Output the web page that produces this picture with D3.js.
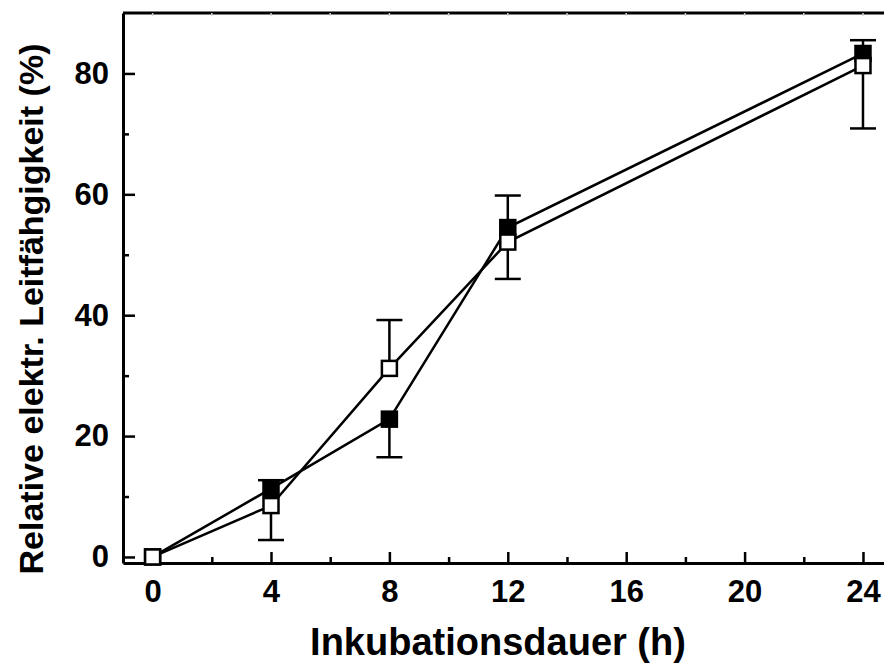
<!DOCTYPE html>
<html>
<head>
<meta charset="utf-8">
<script src="https://cdn.jsdelivr.net/npm/d3@7"></script>
<style>
  html, body { margin: 0; padding: 0; background: #fff; }
  svg { display: block; }
  text { font-family: "Liberation Sans", Arial, sans-serif; font-weight: bold; fill: #000; }
</style>
</head>
<body>
<svg id="chart" width="884" height="664"></svg>
<script>
// Incubation times (h)
const hours = [0, 4, 8, 12, 24];

// Filled squares: mean values and one-sided error bars
const filledValues = [0, 11.3, 22.8, 54.5, 83.3];
const filledErrUp   = [0, 1.4, 0, 5.3, 2.2];
const filledErrDown = [0, 0, 6.3, 0, 0];

// Open squares: mean values and one-sided error bars
const openValues = [0, 8.5, 31.2, 52.1, 81.3];
const openErrUp   = [0, 0, 8.0, 0, 0];
const openErrDown = [0, 5.7, 0, 6.1, 10.4];

const xTicks = [0, 4, 8, 12, 16, 20, 24];
const xMinorTicks = [2, 6, 10, 14, 18, 22];
const yTicks = [0, 20, 40, 60, 80];
const yMinorTicks = [10, 30, 50, 70];

const svg = d3.select("#chart");
const plotLeft = 123, plotRight = 884, plotTop = 13, plotBottom = 563;

const x = d3.scaleLinear().domain([-1, 24.71]).range([plotLeft, plotRight]);
const y = d3.scaleLinear().domain([-1, 90]).range([plotBottom, plotTop]);

// Top frame with faint minor ticks
svg.append("line").attr("x1", plotLeft).attr("x2", plotRight).attr("y1", plotTop).attr("y2", plotTop)
  .attr("stroke", "#000").attr("stroke-width", 3);
svg.append("g").selectAll("line").data(d3.range(0, 25, 2)).join("line")
  .attr("x1", d => x(d)).attr("x2", d => x(d)).attr("y1", plotTop).attr("y2", plotTop + 3)
  .attr("stroke", "#d0d0d0").attr("stroke-width", 1.5);

// Bottom axis: major ticks labelled, inward
const xAxis = d3.axisBottom(x).tickValues(xTicks).tickSizeInner(-11).tickSizeOuter(0).tickPadding(17)
  .tickFormat(d3.format("d"));
const gx = svg.append("g").attr("transform", `translate(0,${plotBottom})`).call(xAxis);
gx.select(".domain").attr("stroke-width", 3);
gx.selectAll(".tick line").attr("stroke-width", 2.5);
gx.selectAll(".tick text").attr("font-size", 31).attr("font-family", "Liberation Sans, Arial, sans-serif")
  .attr("font-weight", "bold");
const xMinor = d3.axisBottom(x).tickValues(xMinorTicks).tickSize(-6).tickFormat("");
const gxm = svg.append("g").attr("transform", `translate(0,${plotBottom})`).call(xMinor);
gxm.select(".domain").remove();
gxm.selectAll(".tick line").attr("stroke-width", 2.5);

// Left axis
const yAxis = d3.axisLeft(y).tickValues(yTicks).tickSizeInner(-12).tickSizeOuter(0).tickPadding(14)
  .tickFormat(d3.format("d"));
const gy = svg.append("g").attr("transform", `translate(${plotLeft},0)`).call(yAxis);
gy.select(".domain").attr("stroke-width", 3);
gy.selectAll(".tick line").attr("stroke-width", 2.5);
gy.selectAll(".tick text").attr("font-size", 31).attr("font-family", "Liberation Sans, Arial, sans-serif")
  .attr("font-weight", "bold");
const yMinor = d3.axisLeft(y).tickValues(yMinorTicks).tickSize(-6).tickFormat("");
const gym = svg.append("g").attr("transform", `translate(${plotLeft},0)`).call(yMinor);
gym.select(".domain").remove();
gym.selectAll(".tick line").attr("stroke-width", 2.5);

// Axis titles
svg.append("text").attr("x", 498).attr("y", 655).attr("text-anchor", "middle")
  .attr("font-size", 38).text("Inkubationsdauer (h)");
svg.append("text").attr("transform", "translate(43,309) rotate(-90)").attr("text-anchor", "middle")
  .attr("font-size", 34).text("Relative elektr. Leitfähgigkeit (%)");

const series = [
  { values: openValues, up: openErrUp, down: openErrDown, fill: "#fff" },
  { values: filledValues, up: filledErrUp, down: filledErrDown, fill: "#000" }
];

const line = d3.line().x((d, i) => x(hours[i])).y(d => y(d));
const capW = 26, size = 15;

// Connecting lines
series.forEach(s => {
  svg.append("path").datum(s.values).attr("d", line)
    .attr("fill", "none").attr("stroke", "#000").attr("stroke-width", 2.5);
});

// Error bars
series.forEach(s => {
  const g = svg.append("g").attr("stroke", "#000").attr("stroke-width", 2.5);
  s.values.forEach((v, i) => {
    const cx = x(hours[i]);
    [[s.up[i], 1], [s.down[i], -1]].forEach(([e, sign]) => {
      if (!e) return;
      const yEnd = y(v + sign * e);
      g.append("line").attr("x1", cx).attr("x2", cx).attr("y1", y(v)).attr("y2", yEnd);
      g.append("line").attr("x1", cx - capW / 2).attr("x2", cx + capW / 2).attr("y1", yEnd).attr("y2", yEnd);
    });
  });
});

// Markers: filled first, open on top
[series[1], series[0]].forEach(s => {
  svg.append("g").selectAll("rect").data(s.values).join("rect")
    .attr("x", (d, i) => x(hours[i]) - size / 2)
    .attr("y", d => y(d) - size / 2)
    .attr("width", size).attr("height", size)
    .attr("fill", s.fill).attr("stroke", "#000").attr("stroke-width", 2.5);
});
</script>
</body>
</html>
